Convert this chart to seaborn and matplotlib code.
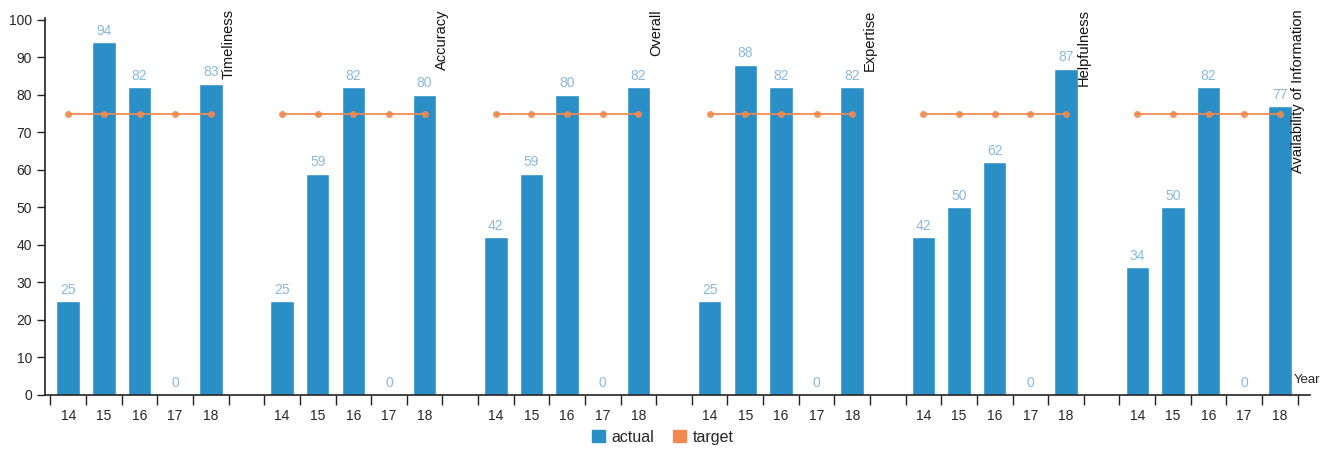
import numpy as np
import pandas as pd
import matplotlib
matplotlib.use("Agg")
import matplotlib.pyplot as plt
from matplotlib.patches import Patch
import seaborn as sns

groups = ["Timeliness", "Accuracy", "Overall", "Expertise", "Helpfulness",
          "Availability of Information"]
years = ["14", "15", "16", "17", "18"]
timeliness = [25, 94, 82, 0, 83]
accuracy = [25, 59, 82, 0, 80]
overall = [42, 59, 80, 0, 82]
expertise = [25, 88, 82, 0, 82]
helpfulness = [42, 50, 62, 0, 87]
availability = [34, 50, 82, 0, 77]
target = [75, 75, 75, 75, 75]

actual = [timeliness, accuracy, overall, expertise, helpfulness, availability]

BAR = "#2a8fc6"
LAB = "#8ab9de"
ORANGE = "#f28a4f"

rows = []
for gi, g in enumerate(groups):
    for yi, y in enumerate(years):
        rows.append({"group": g, "year": y, "pos": gi * 6 + yi,
                     "actual": actual[gi][yi], "target": target[yi]})
df = pd.DataFrame(rows)

sns.set_theme(style="white")
plt.rcParams['font.family'] = ['Liberation Sans', 'DejaVu Sans']

fig = plt.figure(figsize=(13.26, 4.57), dpi=100)
ax = fig.add_axes([0.034, 0.1357, 0.954, 0.825])

sns.barplot(data=df, x="pos", y="actual", native_scale=True, color=BAR,
            width=0.66, saturation=1, ax=ax, errorbar=None)
sns.lineplot(data=df, x="pos", y="target", units="group", estimator=None,
             color=ORANGE, marker="o", markersize=5, linewidth=1.4,
             markeredgewidth=0, alpha=0.9, ax=ax, legend=False)

for _, r in df.iterrows():
    ax.text(r["pos"], r["actual"] + 1.2, f"{r['actual']}", ha="center",
            va="bottom", color=LAB, fontsize=10)

for gi, g in enumerate(groups):
    ax.text(gi * 6 + 4.5, 102.8, g, rotation=90, ha="center", va="top",
            fontsize=10.5, color="#111111", clip_on=False)

ax.set_xlim(-0.65, 34.85)
ax.set_ylim(0, 100.5)
ax.set_yticks(np.arange(0, 101, 10))
ax.set_xticks(np.arange(-0.5, 35, 1.0))
ax.set_xticklabels([])
ax.set_xticks(df["pos"].values, minor=True)
ax.set_xticklabels(df["year"].values, minor=True)
ax.tick_params(axis="x", which="major", length=7, width=1, color="#222222",
               direction="out", bottom=True)
ax.tick_params(axis="x", which="minor", length=0, pad=10, labelsize=10)
ax.tick_params(axis="y", length=6, width=1, color="#222222", direction="out",
               left=True, labelsize=10)
ax.set_xlabel("")
ax.set_ylabel("")
for s in ["top", "right"]:
    ax.spines[s].set_visible(False)
for s in ["left", "bottom"]:
    ax.spines[s].set_color("#222222")
    ax.spines[s].set_linewidth(1.2)
ax.text(34.38, 2.5, "Year", fontsize=9.5, ha="left", va="bottom")

handles = [Patch(color=BAR, label="actual"), Patch(color=ORANGE, label="target")]
fig.legend(handles=handles, loc="lower center", bbox_to_anchor=(0.5, -0.005),
           ncol=2, frameon=False, fontsize=11.5, handlelength=0.8,
           handleheight=0.8, handletextpad=0.4, columnspacing=1.2)

fig.savefig("out.png", dpi=100)
